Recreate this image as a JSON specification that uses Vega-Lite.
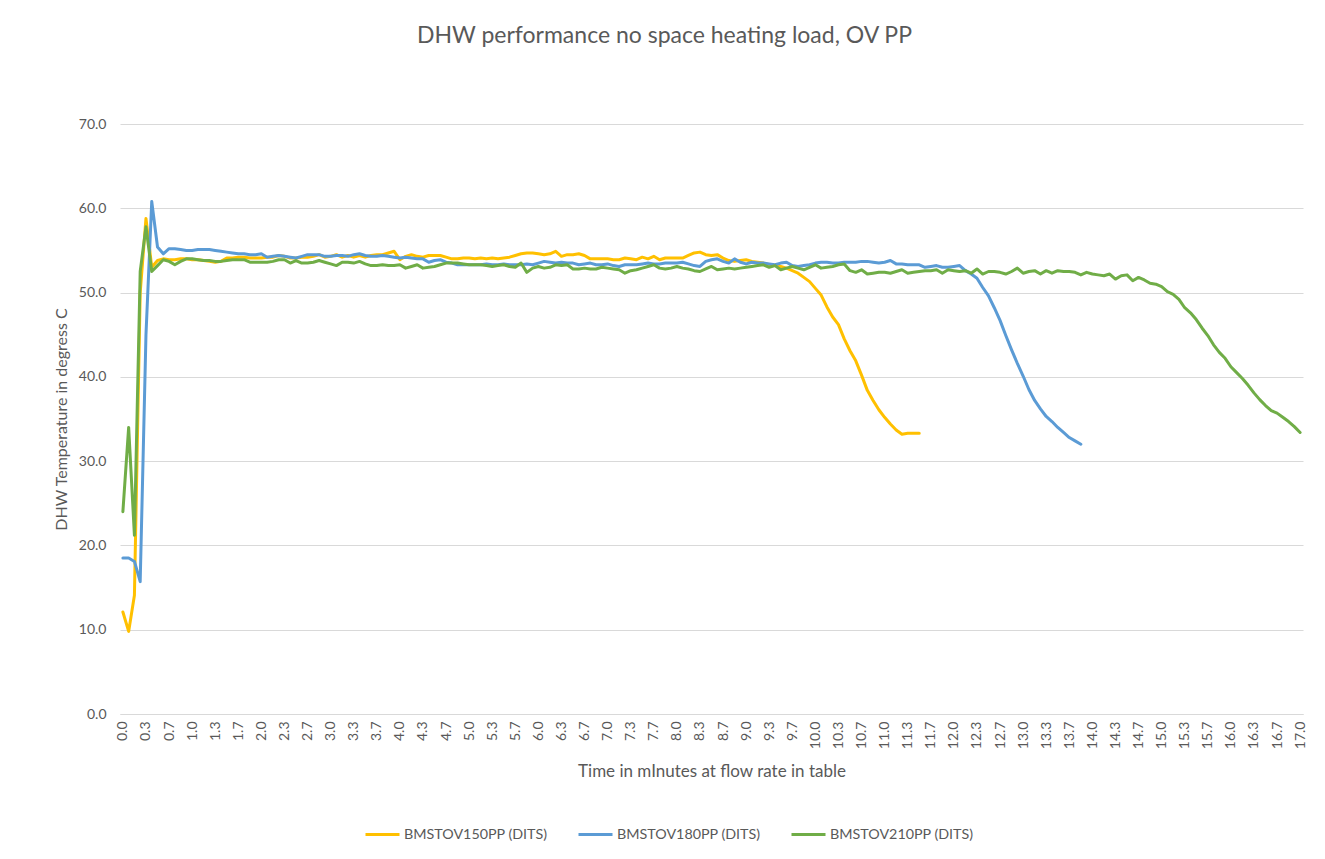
{
"$schema": "https://vega.github.io/schema/vega-lite/v6.json",
"width": 1183,
"height": 590,
"autosize": {"type": "none"},
"padding": {"left": 120, "top": 124, "right": 22, "bottom": 145},
"background": "white",
"title": {"text": "DHW performance no space heating load, OV PP", "frame": "group", "anchor": "middle", "offset": 69, "dx": -47, "fontSize": 23, "font": "Lato", "fontWeight": "normal", "color": "#595959"},
"data": {"values": [
{"s":0,"150":12.1,"180":18.5,"210":24.0},
{"s":5,"150":9.8,"180":18.5,"210":34.0},
{"s":10,"150":14.1,"180":18.1,"210":21.2},
{"s":15,"150":50.0,"180":15.7,"210":52.5},
{"s":20,"150":58.8,"180":45.0,"210":57.8},
{"s":25,"150":53.0,"180":60.8,"210":52.5},
{"s":30,"150":53.8,"180":55.4,"210":53.2},
{"s":35,"150":54.0,"180":54.6,"210":53.9},
{"s":40,"150":53.9,"180":55.2,"210":53.7},
{"s":45,"150":53.9,"180":55.2,"210":53.3},
{"s":50,"150":54.0,"180":55.1,"210":53.7},
{"s":55,"150":54.0,"180":55.0,"210":54.0},
{"s":60,"150":53.9,"180":55.0,"210":54.0},
{"s":65,"150":53.9,"180":55.1,"210":53.9},
{"s":70,"150":53.8,"180":55.1,"210":53.8},
{"s":75,"150":53.7,"180":55.1,"210":53.8},
{"s":80,"150":53.6,"180":55.0,"210":53.7},
{"s":85,"150":53.7,"180":54.9,"210":53.7},
{"s":90,"150":54.1,"180":54.8,"210":53.8},
{"s":95,"150":54.1,"180":54.7,"210":53.9},
{"s":100,"150":54.2,"180":54.6,"210":53.9},
{"s":105,"150":54.2,"180":54.6,"210":53.9},
{"s":110,"150":54.1,"180":54.5,"210":53.6},
{"s":115,"150":54.1,"180":54.5,"210":53.6},
{"s":120,"150":54.1,"180":54.6,"210":53.6},
{"s":125,"150":54.2,"180":54.2,"210":53.6},
{"s":130,"150":54.2,"180":54.3,"210":53.7},
{"s":135,"150":54.4,"180":54.4,"210":53.9},
{"s":140,"150":54.3,"180":54.3,"210":53.9},
{"s":145,"150":54.1,"180":54.2,"210":53.5},
{"s":150,"150":54.1,"180":54.1,"210":53.8},
{"s":155,"150":54.2,"180":54.3,"210":53.5},
{"s":160,"150":54.2,"180":54.5,"210":53.5},
{"s":165,"150":54.3,"180":54.5,"210":53.6},
{"s":170,"150":54.5,"180":54.5,"210":53.8},
{"s":175,"150":54.2,"180":54.3,"210":53.6},
{"s":180,"150":54.3,"180":54.3,"210":53.4},
{"s":185,"150":54.5,"180":54.4,"210":53.2},
{"s":190,"150":54.2,"180":54.4,"210":53.6},
{"s":195,"150":54.4,"180":54.3,"210":53.6},
{"s":200,"150":54.2,"180":54.5,"210":53.5},
{"s":205,"150":54.4,"180":54.6,"210":53.7},
{"s":210,"150":54.2,"180":54.4,"210":53.4},
{"s":215,"150":54.4,"180":54.3,"210":53.2},
{"s":220,"150":54.5,"180":54.3,"210":53.2},
{"s":225,"150":54.5,"180":54.4,"210":53.3},
{"s":230,"150":54.7,"180":54.3,"210":53.2},
{"s":235,"150":54.9,"180":54.2,"210":53.2},
{"s":240,"150":53.9,"180":54.1,"210":53.3},
{"s":245,"150":54.3,"180":54.2,"210":52.9},
{"s":250,"150":54.5,"180":54.1,"210":53.1},
{"s":255,"150":54.3,"180":54.0,"210":53.3},
{"s":260,"150":54.2,"180":54.0,"210":52.9},
{"s":265,"150":54.4,"180":53.6,"210":53.0},
{"s":270,"150":54.4,"180":53.8,"210":53.1},
{"s":275,"150":54.4,"180":53.9,"210":53.3},
{"s":280,"150":54.2,"180":53.6,"210":53.5},
{"s":285,"150":54.0,"180":53.5,"210":53.5},
{"s":290,"150":54.0,"180":53.3,"210":53.5},
{"s":295,"150":54.1,"180":53.3,"210":53.4},
{"s":300,"150":54.1,"180":53.3,"210":53.3},
{"s":305,"150":54.0,"180":53.3,"210":53.3},
{"s":310,"150":54.1,"180":53.3,"210":53.3},
{"s":315,"150":54.0,"180":53.4,"210":53.2},
{"s":320,"150":54.1,"180":53.3,"210":53.1},
{"s":325,"150":54.0,"180":53.3,"210":53.2},
{"s":330,"150":54.1,"180":53.4,"210":53.3},
{"s":335,"150":54.2,"180":53.3,"210":53.1},
{"s":340,"150":54.4,"180":53.3,"210":53.0},
{"s":345,"150":54.6,"180":53.3,"210":53.5},
{"s":350,"150":54.7,"180":53.4,"210":52.4},
{"s":355,"150":54.7,"180":53.3,"210":52.9},
{"s":360,"150":54.6,"180":53.5,"210":53.1},
{"s":365,"150":54.5,"180":53.7,"210":52.9},
{"s":370,"150":54.6,"180":53.6,"210":53.0},
{"s":375,"150":54.9,"180":53.5,"210":53.3},
{"s":380,"150":54.3,"180":53.6,"210":53.2},
{"s":385,"150":54.5,"180":53.5,"210":53.3},
{"s":390,"150":54.5,"180":53.5,"210":52.8},
{"s":395,"150":54.6,"180":53.3,"210":52.8},
{"s":400,"150":54.4,"180":53.4,"210":52.9},
{"s":405,"150":54.0,"180":53.5,"210":52.8},
{"s":410,"150":54.0,"180":53.3,"210":52.8},
{"s":415,"150":54.0,"180":53.3,"210":53.0},
{"s":420,"150":54.0,"180":53.4,"210":52.9},
{"s":425,"150":53.9,"180":53.2,"210":52.8},
{"s":430,"150":53.9,"180":53.1,"210":52.7},
{"s":435,"150":54.1,"180":53.3,"210":52.3},
{"s":440,"150":54.0,"180":53.3,"210":52.6},
{"s":445,"150":53.9,"180":53.3,"210":52.7},
{"s":450,"150":54.2,"180":53.4,"210":52.9},
{"s":455,"150":54.0,"180":53.5,"210":53.1},
{"s":460,"150":54.3,"180":53.4,"210":53.3},
{"s":465,"150":53.9,"180":53.4,"210":52.9},
{"s":470,"150":54.1,"180":53.5,"210":52.8},
{"s":475,"150":54.1,"180":53.5,"210":52.9},
{"s":480,"150":54.1,"180":53.5,"210":53.1},
{"s":485,"150":54.1,"180":53.6,"210":52.9},
{"s":490,"150":54.4,"180":53.4,"210":52.8},
{"s":495,"150":54.7,"180":53.2,"210":52.6},
{"s":500,"150":54.8,"180":53.1,"210":52.5},
{"s":505,"150":54.5,"180":53.7,"210":52.8},
{"s":510,"150":54.4,"180":53.9,"210":53.1},
{"s":515,"150":54.5,"180":54.0,"210":52.7},
{"s":520,"150":54.1,"180":53.7,"210":52.8},
{"s":525,"150":53.8,"180":53.5,"210":52.9},
{"s":530,"150":53.7,"180":54.0,"210":52.8},
{"s":535,"150":53.8,"180":53.6,"210":52.9},
{"s":540,"150":53.9,"180":53.4,"210":53.0},
{"s":545,"150":53.7,"180":53.6,"210":53.1},
{"s":550,"150":53.6,"180":53.5,"210":53.2},
{"s":555,"150":53.5,"180":53.5,"210":53.3},
{"s":560,"150":53.3,"180":53.4,"210":53.0},
{"s":565,"150":53.2,"180":53.3,"210":53.2},
{"s":570,"150":53.1,"180":53.5,"210":52.7},
{"s":575,"150":52.9,"180":53.6,"210":52.9},
{"s":580,"150":52.6,"180":53.2,"210":53.1},
{"s":585,"150":52.3,"180":53.1,"210":52.9},
{"s":590,"150":51.8,"180":53.2,"210":52.7},
{"s":595,"150":51.3,"180":53.3,"210":53.0},
{"s":600,"150":50.5,"180":53.5,"210":53.3},
{"s":605,"150":49.7,"180":53.6,"210":52.9},
{"s":610,"150":48.3,"180":53.6,"210":53.0},
{"s":615,"150":47.1,"180":53.5,"210":53.1},
{"s":620,"150":46.2,"180":53.5,"210":53.3},
{"s":625,"150":44.5,"180":53.6,"210":53.4},
{"s":630,"150":43.1,"180":53.6,"210":52.6},
{"s":635,"150":41.9,"180":53.6,"210":52.4},
{"s":640,"150":40.2,"180":53.7,"210":52.7},
{"s":645,"150":38.4,"180":53.7,"210":52.2},
{"s":650,"150":37.2,"180":53.6,"210":52.3},
{"s":655,"150":36.1,"180":53.5,"210":52.4},
{"s":660,"150":35.2,"180":53.6,"210":52.4},
{"s":665,"150":34.4,"180":53.8,"210":52.3},
{"s":670,"150":33.7,"180":53.4,"210":52.5},
{"s":675,"150":33.2,"180":53.4,"210":52.7},
{"s":680,"150":33.3,"180":53.3,"210":52.3},
{"s":685,"150":33.3,"180":53.3,"210":52.4},
{"s":690,"150":33.3,"180":53.3,"210":52.5},
{"s":695,"180":53.0,"210":52.6},
{"s":700,"180":53.1,"210":52.6},
{"s":705,"180":53.2,"210":52.7},
{"s":710,"180":53.0,"210":52.3},
{"s":715,"180":53.0,"210":52.7},
{"s":720,"180":53.1,"210":52.6},
{"s":725,"180":53.2,"210":52.5},
{"s":730,"180":52.6,"210":52.6},
{"s":735,"180":52.2,"210":52.3},
{"s":740,"180":51.7,"210":52.8},
{"s":745,"180":50.6,"210":52.2},
{"s":750,"180":49.6,"210":52.5},
{"s":755,"180":48.2,"210":52.5},
{"s":760,"180":46.7,"210":52.4},
{"s":765,"180":44.9,"210":52.2},
{"s":770,"180":43.2,"210":52.5},
{"s":775,"180":41.6,"210":52.9},
{"s":780,"180":40.1,"210":52.3},
{"s":785,"180":38.5,"210":52.5},
{"s":790,"180":37.2,"210":52.6},
{"s":795,"180":36.2,"210":52.2},
{"s":800,"180":35.3,"210":52.6},
{"s":805,"180":34.7,"210":52.3},
{"s":810,"180":34.0,"210":52.6},
{"s":815,"180":33.4,"210":52.5},
{"s":820,"180":32.8,"210":52.5},
{"s":825,"180":32.4,"210":52.4},
{"s":830,"180":32.0,"210":52.1},
{"s":835,"210":52.4},
{"s":840,"210":52.2},
{"s":845,"210":52.1},
{"s":850,"210":52.0},
{"s":855,"210":52.2},
{"s":860,"210":51.6},
{"s":865,"210":52.0},
{"s":870,"210":52.1},
{"s":875,"210":51.4},
{"s":880,"210":51.8},
{"s":885,"210":51.5},
{"s":890,"210":51.1},
{"s":895,"210":51.0},
{"s":900,"210":50.7},
{"s":905,"210":50.1},
{"s":910,"210":49.8},
{"s":915,"210":49.2},
{"s":920,"210":48.2},
{"s":925,"210":47.6},
{"s":930,"210":46.8},
{"s":935,"210":45.8},
{"s":940,"210":44.9},
{"s":945,"210":43.8},
{"s":950,"210":42.9},
{"s":955,"210":42.2},
{"s":960,"210":41.2},
{"s":965,"210":40.5},
{"s":970,"210":39.8},
{"s":975,"210":39.0},
{"s":980,"210":38.1},
{"s":985,"210":37.3},
{"s":990,"210":36.6},
{"s":995,"210":36.0},
{"s":1000,"210":35.7},
{"s":1005,"210":35.2},
{"s":1010,"210":34.7},
{"s":1015,"210":34.1},
{"s":1020,"210":33.4}
]},
"transform": [{"fold": ["150", "180", "210"], "as": ["series", "temp"]}],
"mark": {"type": "line", "strokeWidth": 3, "strokeCap": "round", "strokeJoin": "round"},
"encoding": {
  "x": {"field": "s", "type": "quantitative",
    "scale": {"domain": [-2.5, 1022.5], "nice": false, "zero": false},
    "axis": {"title": "Time in mInutes at flow rate in table",
      "values": [0,20,40,60,80,100,120,140,160,180,200,220,240,260,280,300,320,340,360,380,400,420,440,460,480,500,520,540,560,580,600,620,640,660,680,700,720,740,760,780,800,820,840,860,880,900,920,940,960,980,1000,1020],
      "labelExpr": "format(datum.value/60, '.1f')",
      "labelAngle": -90, "labelOverlap": false, "labelBound": false, "labelFlush": false,
      "grid": false, "domainColor": "#D9D9D9", "domainWidth": 1, "ticks": false,
      "labelPadding": 7, "labelFontSize": 14, "labelColor": "#595959", "labelFont": "Lato",
      "titleFontSize": 17, "titleFontWeight": "normal", "titleColor": "#595959", "titleFont": "Lato", "titlePadding": 15}},
  "y": {"field": "temp", "type": "quantitative",
    "scale": {"domain": [0, 70], "nice": false},
    "axis": {"title": "DHW Temperature in degress C", "values": [0,10,20,30,40,50,60,70], "format": ".1f",
      "grid": true, "gridColor": "#D9D9D9", "gridWidth": 1, "domain": false, "ticks": false,
      "labelPadding": 14, "labelFontSize": 14, "labelColor": "#595959", "labelFont": "Lato",
      "titleFontSize": 16, "titleFontWeight": "normal", "titleColor": "#595959", "titleFont": "Lato", "titlePadding": 9}},
  "color": {"field": "series", "type": "nominal",
    "scale": {"domain": ["150", "180", "210"], "range": ["#FFC000", "#5B9BD5", "#70AD47"]},
    "legend": {"title": null, "orient": "none", "legendX": 244, "legendY": 692, "direction": "horizontal",
      "symbolType": "stroke", "symbolSize": 1156, "symbolStrokeWidth": 3,
      "labelFontSize": 14.3, "labelColor": "#595959", "labelFont": "Lato",
      "columnPadding": 24, "labelOffset": 3,
      "labelExpr": "'BMSTOV' + datum.label + 'PP (DITS)'"}}
},
"config": {"view": {"stroke": null}, "font": "Lato"}
}
